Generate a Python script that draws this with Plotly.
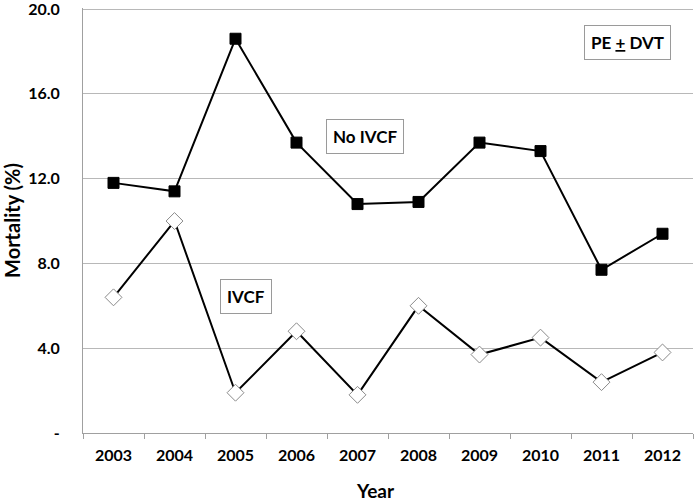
import plotly.graph_objects as go

years = ["2003", "2004", "2005", "2006", "2007", "2008", "2009", "2010", "2011", "2012"]
no_ivcf = [11.8, 11.4, 18.6, 13.7, 10.8, 10.9, 13.7, 13.3, 7.7, 9.4]
ivcf = [6.4, 10.0, 1.9, 4.8, 1.8, 6.0, 3.7, 4.5, 2.4, 3.8]
y_tickvals = [0, 4, 8, 12, 16, 20]
y_ticktext = ["-", "4.0", "8.0", "12.0", "16.0", "20.0"]

FONT = "Lato"

fig = go.Figure()
fig.add_trace(go.Scatter(
    x=years, y=no_ivcf, mode="lines+markers", name="No IVCF",
    line=dict(color="black", width=2),
    marker=dict(symbol="square", size=11, color="black", line=dict(color="black", width=1)),
))
fig.add_trace(go.Scatter(
    x=years, y=ivcf, mode="lines+markers", name="IVCF",
    line=dict(color="black", width=2),
    marker=dict(symbol="diamond", size=13, color="white", line=dict(color="#8a8a8a", width=1)),
))

box = dict(bordercolor="#9a9a9a", borderwidth=1, borderpad=6, bgcolor="white",
           showarrow=False, font=dict(family=FONT, size=17, color="black"))
fig.add_annotation(x=4.13, y=14.0, text="<b>No IVCF</b>", **box)
fig.add_annotation(x=8.42, y=18.42,
                   text="<b>PE <span style='text-decoration:underline'>+</span> DVT</b>", **box)
fig.add_annotation(x=2.17, y=6.45, text="<b>IVCF</b>", **box)

# x-axis title placed as paper annotation (sits left of centre in the reference)
fig.add_annotation(xref="paper", yref="paper", x=0.48, y=0, yshift=-57,
                   xanchor="center", yanchor="middle", showarrow=False,
                   text="<b>Year</b>", font=dict(family=FONT, size=19, color="black"))

fig.update_layout(
    width=694, height=504,
    margin=dict(l=83, r=1, t=8, b=71),
    paper_bgcolor="white", plot_bgcolor="white",
    showlegend=False,
    font=dict(family=FONT, color="black"),
)
fig.update_xaxes(
    type="category", range=[-0.5, 9.5], automargin=False,
    showline=True, linecolor="#a0a0a0", linewidth=1,
    ticks="outside", tickson="boundaries", ticklen=5, tickcolor="#a0a0a0",
    showgrid=False,
    tickvals=years, ticktext=["<b>%s</b>" % y for y in years],
    tickfont=dict(family=FONT, size=16, color="black"),
    ticklabelstandoff=8, ticklabeloverflow="allow",
)
fig.update_yaxes(
    range=[0, 20.05], automargin=False,
    tickvals=y_tickvals, ticktext=["<b>%s</b>" % t for t in y_ticktext],
    showline=True, linecolor="#a0a0a0", linewidth=1,
    showgrid=True, gridcolor="#b8b8b8", gridwidth=1,
    zeroline=False,
    ticks="outside", ticklen=19, tickcolor="rgba(0,0,0,0)", ticklabeloverflow="allow",
    tickfont=dict(family=FONT, size=16, color="black"),
    title=dict(text="<b>Mortality (%)</b>", font=dict(family=FONT, size=20, color="black"), standoff=4),
)

fig.write_html("out.html", post_script="document.body.style.margin='0';",
               config={"displayModeBar": False})
